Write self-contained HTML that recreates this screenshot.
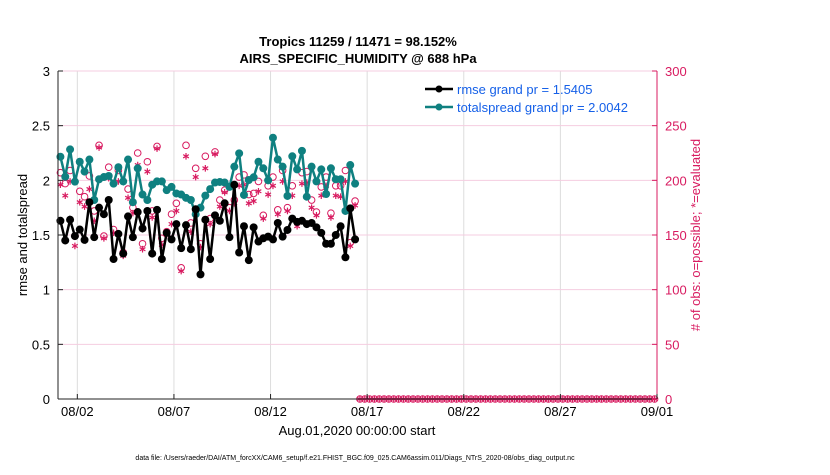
<!DOCTYPE html>
<html><head><meta charset="utf-8"><style>
body{margin:0;background:#fff;font-family:"Liberation Sans",sans-serif}
svg text{font-family:"Liberation Sans",sans-serif}
</style></head><body>
<svg id="c" width="830" height="470" xmlns="http://www.w3.org/2000/svg">
<rect width="830" height="470" fill="#fff"/>
<text x="358" y="46" text-anchor="middle" font-size="13" font-weight="bold">Tropics 11259 / 11471 = 98.152%</text>
<text x="358" y="63" text-anchor="middle" font-size="13" font-weight="bold">AIRS_SPECIFIC_HUMIDITY @ 688 hPa</text>
<g id="grid"></g><g id="marks"></g><g id="axes"></g>
<text transform="translate(27,235) rotate(-90)" text-anchor="middle" font-size="13">rmse and totalspread</text>
<text transform="translate(700,235) rotate(-90)" text-anchor="middle" font-size="13" fill="#d81b60"># of obs: o=possible; *=evaluated</text>
<text x="357" y="435" text-anchor="middle" font-size="13">Aug.01,2020 00:00:00 start</text>
<text x="355" y="460" text-anchor="middle" font-size="7">data file: /Users/raeder/DAI/ATM_forcXX/CAM6_setup/f.e21.FHIST_BGC.f09_025.CAM6assim.011/Diags_NTrS_2020-08/obs_diag_output.nc</text>
<g>
<line x1="425" y1="89" x2="453" y2="89" stroke="#000" stroke-width="2.5"/><circle cx="439" cy="89" r="3.5" fill="#000"/>
<text x="457" y="94" font-size="13" fill="#1560e8">rmse grand pr = 1.5405</text>
<line x1="425" y1="107" x2="453" y2="107" stroke="#0f8080" stroke-width="2.5"/><circle cx="439" cy="107" r="3.5" fill="#0f8080"/>
<text x="457" y="112" font-size="13" fill="#1560e8">totalspread grand pr = 2.0042</text>
</g>
</svg>
<script>
const rmse=[1.63,1.45,1.64,1.49,1.55,1.455,1.80,1.48,1.75,1.69,1.82,1.28,1.51,1.33,1.67,1.48,1.71,1.56,1.72,1.33,1.73,1.28,1.52,1.46,1.60,1.38,1.59,1.37,1.735,1.14,1.64,
1.28,1.68,1.63,1.79,1.48,1.96,1.34,1.58,1.27,1.57,1.44,1.47,1.485,1.46,1.61,1.485,1.546,1.65,1.62,1.63,1.60,1.61,1.57,1.52,1.42,1.42,1.50,1.58,1.296,1.744,1.46];
const spread=[2.216,2.033,2.283,1.988,2.17,2.08,2.19,1.82,2.01,2.03,2.04,1.97,2.12,1.99,2.19,1.80,2.11,1.87,1.82,1.96,1.99,1.99,1.91,1.94,1.88,1.87,1.84,1.82,1.69,1.75,1.86,1.92,
1.98,1.985,1.98,1.94,2.125,2.247,1.866,2.003,2.028,2.17,2.11,2.0,2.39,2.19,2.125,1.857,2.22,2.1,2.27,1.85,2.125,1.99,2.1,1.875,2.11,2.01,2.01,1.72,2.14,1.97];
const possibleData=[207,197,209,149,190,185,204,172,232,149,212,155,209,134,192,175,225,142,217,172,231,147,153,169,179,120,232,161,211,142,222,165,
226,182,191,175,182,203,205,187,188,199,168,195,203,173,209,175,195,162,207,208,182,171,194,203,170,195,195,209,143,181];
const evaluatedData=[196,186,199,140,180,176,192,163,230,147,202,152,199,131,184,170,214,137,208,166,229,141,150,160,172,117,222,153,203,139,211,160,
224,176,189,172,179,195,196,179,181,190,165,187,195,169,199,172,186,158,197,198,175,168,186,195,166,186,185,199,140,177];
const zeroTail=[0,0,0,0,0,0,0,0,0,0,0,0,0,0,0,0,0,0,0,0,0,0,0,0,0,0,0,0,0,0,0,0,0,0,0,0,0,0,0,0,0,0,0,0,0,0,0,0,0,0,0,0,0,0,0,0,0,0,0,0,0,0];
const xTicks=[1,6,11,16,21,26,31];
const xTickLabels=["08/02","08/07","08/12","08/17","08/22","08/27","09/01"];
const yTicksLeft=[0,0.5,1,1.5,2,2.5,3];
const yTicksRight=[0,50,100,150,200,250,300];

const NS="http://www.w3.org/2000/svg";
const L=58,R=657,T=71,B=399;
const xs=d=>L+d/31*(R-L);
const ys=v=>B-v/3*(B-T);
const yc=c=>B-c/300*(B-T);
const tOf=i=>0.125+i*0.25;
function mk(tag,at,parent){const e=document.createElementNS(NS,tag);for(const k in at)e.setAttribute(k,at[k]);document.getElementById(parent).appendChild(e);return e;}
xTicks.forEach(d=>{const e=mk('line',{x1:xs(d),x2:xs(d),y1:T,y2:B,stroke:'#dcdcdc','stroke-width':1},'grid');

});
yTicksRight.forEach(c=>{const e=mk('line',{x1:L,x2:R,y1:yc(c),y2:yc(c),stroke:'#f5cde0','stroke-width':1},'grid');

});
const possible=possibleData.concat(zeroTail), evaluated=evaluatedData.concat(zeroTail);
const mg='#d81b60';
possible.forEach((c,i)=>{const e=mk('circle',{cx:xs(tOf(i)),cy:yc(c),r:3.3,fill:'none',stroke:mg,'stroke-width':1},'marks');

});
evaluated.forEach((c,i)=>{const x=xs(tOf(i)),y=yc(c);let d='';for(let a=0;a<3;a++){const an=a*Math.PI/3+Math.PI/2;d+=`M${x+3.3*Math.cos(an)},${y+3.3*Math.sin(an)}L${x-3.3*Math.cos(an)},${y-3.3*Math.sin(an)}`;}
const e=mk('path',{d:d,stroke:mg,'stroke-width':1.2},'marks');

});
function series(arr,col,name){const p=arr.map((v,i)=>xs(tOf(i))+','+ys(v)).join(' ');
const l=mk('polyline',{points:p,fill:'none',stroke:col,'stroke-width':2.5},'marks');


arr.forEach((v,i)=>{const c=mk('circle',{cx:xs(tOf(i)),cy:ys(v),r:4,fill:col},'marks');

});}
series(spread,'#0f8080','totalspread');
series(rmse,'#000','rmse');
const ax=mk('line',{x1:L,x2:L,y1:T,y2:B,stroke:'#222','stroke-width':1},'axes');


const ax2=mk('line',{x1:R,x2:R,y1:T,y2:B,stroke:mg,'stroke-width':1},'axes');


const ax3=mk('line',{x1:L,x2:R,y1:B,y2:B,stroke:'#222','stroke-width':1},'axes');


yTicksLeft.forEach(v=>{mk('line',{x1:L,x2:L+5,y1:ys(v),y2:ys(v),stroke:'#222'},'axes');
const t=mk('text',{x:L-8,y:ys(v)+5,'text-anchor':'end','font-size':13},'axes');t.textContent=v;

});
yTicksRight.forEach(c=>{mk('line',{x1:R-5,x2:R,y1:yc(c),y2:yc(c),stroke:mg},'axes');
const t=mk('text',{x:R+8,y:yc(c)+5,'font-size':13,fill:mg},'axes');t.textContent=c;

});
xTicks.forEach((d,i)=>{mk('line',{x1:xs(d),x2:xs(d),y1:B-5,y2:B,stroke:'#222'},'axes');
const t=mk('text',{x:xs(d),y:B+17,'text-anchor':'middle','font-size':13},'axes');t.textContent=xTickLabels[i];

});
</script>
</body></html>
